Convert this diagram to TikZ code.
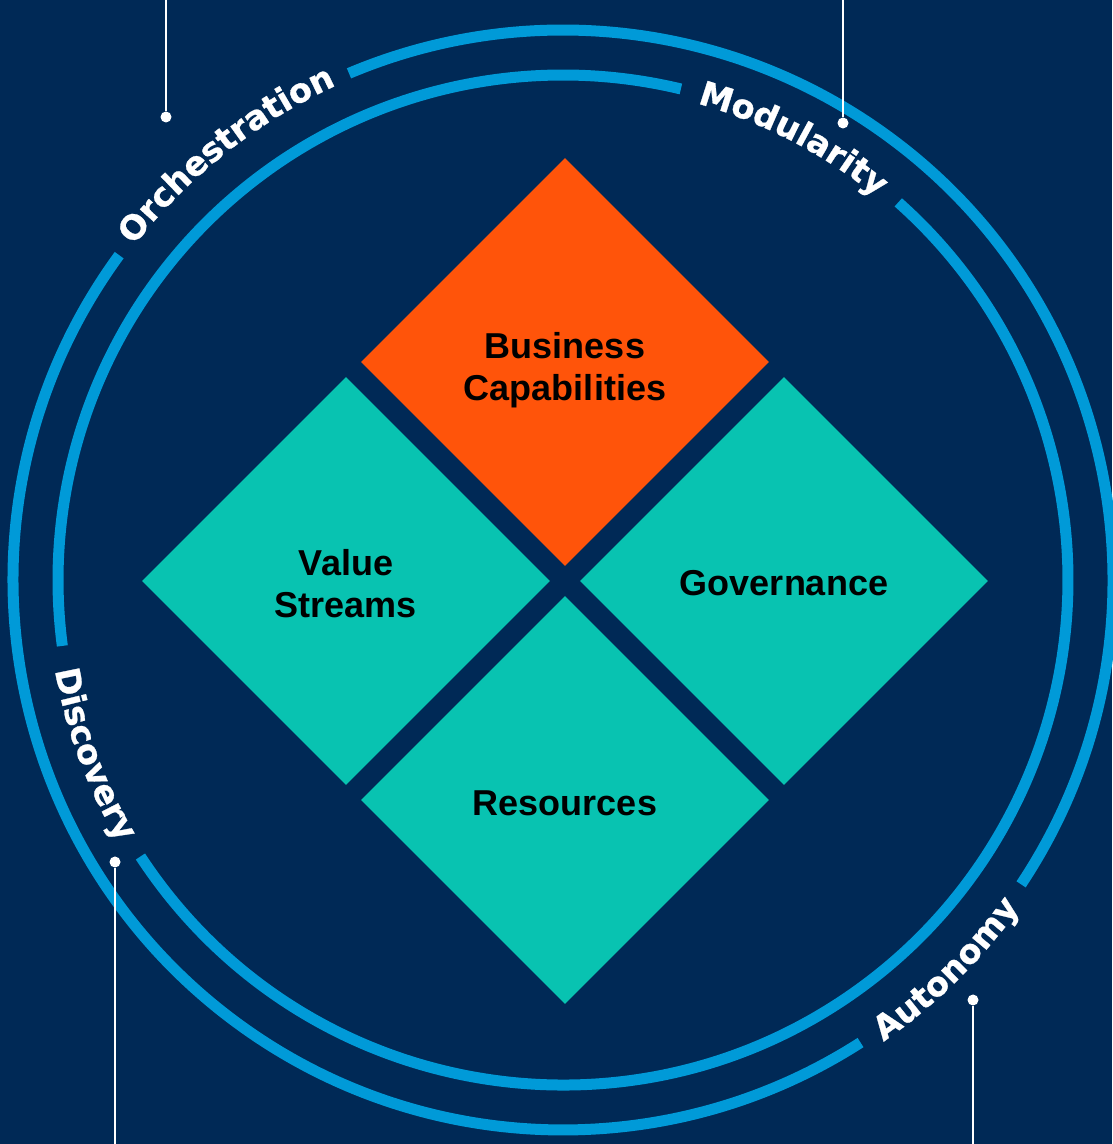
\documentclass[tikz,border=0pt]{standalone}
\usepackage{fontspec}
\setmainfont{Liberation Sans}
\newfontfamily\ringfont[BoldFeatures={FakeBold=0.8}]{DejaVu Sans}
\usetikzlibrary{shapes.geometric,decorations.text}

\definecolor{navy}{RGB}{0,41,86}
\definecolor{ringblue}{RGB}{0,154,216}
\definecolor{capsorange}{RGB}{255,84,10}
\definecolor{tealbox}{RGB}{8,195,177}
\newcommand\ringlabelfont{\ringfont\bfseries\fontsize{33.5}{33.5}\selectfont}

\begin{document}
\begin{tikzpicture}[x=1pt,y=1pt,
    box/.style={diamond,aspect=1,inner sep=0,minimum width=408,minimum height=408},
    boxtext/.style={font=\bfseries\fontsize{36}{42}\selectfont,align=center,text=black},
    ring/.style={ringblue,line width=11},
    ringtext/.style={decorate,decoration={text along path,text align=center,
      text color=white,text={|\ringlabelfont|#1}}},
    leader/.style={white,line width=2},
    dot/.style={circle,fill=white,inner sep=0,minimum size=11}]
    \fill[navy] (0,0) rectangle (1112,1144);
    \useasboundingbox (0,0) rectangle (1112,1144);
    \coordinate (C) at (563,564);

    \draw[ring] (C) ++(143.8:550) arc[start angle=143.8,end angle=302.75,radius=550];
    \draw[ring] (C) ++(326.4:550) arc[start angle=326.4,end angle=472.9,radius=550];
    \draw[ring] (C) ++(76.5:505) arc[start angle=76.5,end angle=187.5,radius=505];
    \draw[ring] (C) ++(213.2:505) arc[start angle=213.2,end angle=408.4,radius=505];

    \path[ringtext=Orchestration] (C) ++(143.8:544) arc[start angle=143.8,end angle=112.9,radius=544];
    \path[ringtext=Modularity] (C) ++(76.5:495) arc[start angle=76.5,end angle=48.4,radius=495];
    \path[ringtext=Discovery] (C) ++(187.5:516) arc[start angle=187.5,end angle=213.2,radius=516];
    \path[ringtext=Autonomy] (C) ++(302.75:562) arc[start angle=302.75,end angle=326.4,radius=562];

    \node[box,fill=capsorange] (caps) at (565,782) {};
    \node[box,fill=tealbox] (streams) at (346,563) {};
    \node[box,fill=tealbox] (gov) at (784,563) {};
    \node[box,fill=tealbox] (res) at (565,344) {};
    \node[boxtext] (capstext) at ([yshift=-8]caps.center) {Business\\Capabilities};
    \node[boxtext] (streamstext) at ([yshift=-3]streams.center) {Value\\Streams};
    \node[boxtext] (govtext) at ([yshift=-2]gov.center) {Governance};
    \node[boxtext] (restext) at ([yshift=-3]res.center) {Resources};

    \node[dot] (orchdot) at (166,1027) {};
    \node[dot] (moddot) at (843,1021) {};
    \node[dot] (discdot) at (115,282) {};
    \node[dot] (autodot) at (973,144) {};
    \coordinate (orchend) at (166,1144);
    \coordinate (modend) at (843,1144);
    \coordinate (discend) at (115,0);
    \coordinate (autoend) at (973,0);
    \draw[leader] (orchdot) -- (orchend);
    \draw[leader] (moddot) -- (modend);
    \draw[leader] (discdot) -- (discend);
    \draw[leader] (autodot) -- (autoend);
\end{tikzpicture}
\end{document}
